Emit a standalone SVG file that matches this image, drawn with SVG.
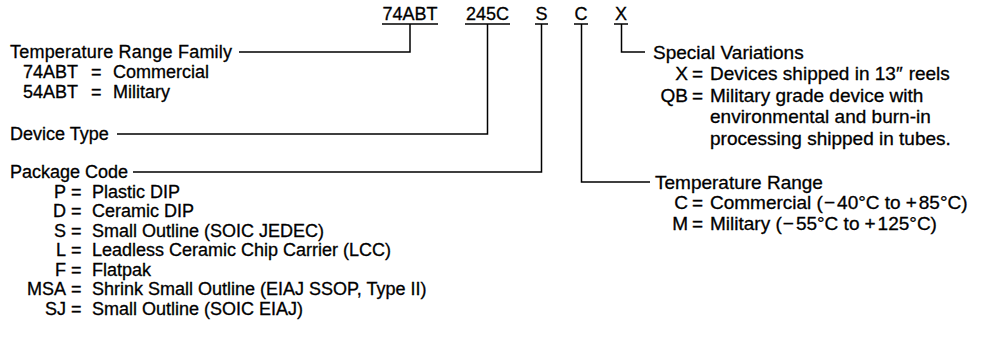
<svg xmlns="http://www.w3.org/2000/svg" width="981" height="341" viewBox="0 0 981 341">
<style>
text{font-family:"Liberation Sans",Arial,Helvetica,sans-serif;font-size:18px;fill:#000;stroke:#000;stroke-width:0.3}
.r text{font-size:19px}
.c{text-anchor:middle}
.e{text-anchor:end}
.ln{fill:none;stroke:#000;stroke-width:1.5}
</style>
<rect width="981" height="341" fill="#fff"/>
<g id="code-74ABT"><text class="c" x="410" y="20">74ABT</text><line class="ln" x1="382" y1="24" x2="438" y2="24"/></g>
<g id="code-245C"><text class="c" x="487.5" y="20">245C</text><line class="ln" x1="465" y1="24" x2="510" y2="24"/></g>
<g id="code-S"><text class="c" x="541.5" y="20">S</text><line class="ln" x1="535" y1="24" x2="548" y2="24"/></g>
<g id="code-C"><text class="c" x="581" y="20">C</text><line class="ln" x1="574" y1="24" x2="588" y2="24"/></g>
<g id="code-X"><text class="c" x="621" y="20">X</text><line class="ln" x1="614" y1="24" x2="628" y2="24"/></g>

<g id="temp-range-family">
<text x="10" y="58" textLength="222">Temperature Range Family</text>
<text x="23" y="78">74ABT</text><text x="91" y="78">=</text><text x="113" y="78">Commercial</text>
<text x="23" y="97.5">54ABT</text><text x="91" y="97.5">=</text><text x="113" y="97.5">Military</text>
</g>
<g id="device-type"><text x="10" y="140">Device Type</text></g>
<g id="package-code">
<text x="10" y="178">Package Code</text>
<text class="e" x="66" y="197.5">P</text><text x="71" y="197.5">=</text><text x="92" y="197.5">Plastic DIP</text>
<text class="e" x="66" y="217">D</text><text x="71" y="217">=</text><text x="92" y="217">Ceramic DIP</text>
<text class="e" x="66" y="236.5">S</text><text x="71" y="236.5">=</text><text x="92" y="236.5">Small Outline (SOIC JEDEC)</text>
<text class="e" x="66" y="256">L</text><text x="71" y="256">=</text><text x="92" y="256">Leadless Ceramic Chip Carrier (LCC)</text>
<text class="e" x="66" y="275.5">F</text><text x="71" y="275.5">=</text><text x="92" y="275.5">Flatpak</text>
<text class="e" x="66" y="295">MSA</text><text x="71" y="295">=</text><text x="92" y="295">Shrink Small Outline (EIAJ SSOP, Type II)</text>
<text class="e" x="66" y="314.5">SJ</text><text x="71" y="314.5">=</text><text x="92" y="314.5">Small Outline (SOIC EIAJ)</text>
</g>
<g id="special-variations" class="r">
<text x="653" y="58.5">Special Variations</text>
<text class="e" x="688" y="80">X</text><text x="692" y="80">=</text><text x="710" y="80">Devices shipped in 13″<tspan dx="6">reels</tspan></text>
<text class="e" x="688" y="101.5">QB</text><text x="692" y="101.5">=</text><text x="710" y="101.5">Military grade device with</text>
<text x="710" y="123">environmental and burn-in</text>
<text x="710" y="144.5">processing shipped in tubes.</text>
</g>
<g id="temperature-range" class="r">
<text x="655" y="188.5">Temperature Range</text>
<text class="e" x="688" y="209">C</text><text x="692" y="209">=</text><text x="710" y="209">Commercial (<tspan dx="1">−</tspan><tspan dx="2">40°C to</tspan><tspan dx="5">+</tspan><tspan dx="2">85°C)</tspan></text>
<text class="e" x="688" y="229.5">M</text><text x="692" y="229.5">=</text><text x="710" y="229.5">Military (<tspan dx="1">−</tspan><tspan dx="2">55°C to</tspan><tspan dx="5">+</tspan><tspan dx="2">125°C)</tspan></text>
</g>

<g id="connectors">
<path class="ln" d="M410 24V52H239"/>
<path class="ln" d="M487.5 24V134H117"/>
<path class="ln" d="M541.5 24V172H133"/>
<path class="ln" d="M581.5 24V182H650"/>
<path class="ln" d="M621.5 24V52H645"/>
</g>
</svg>
